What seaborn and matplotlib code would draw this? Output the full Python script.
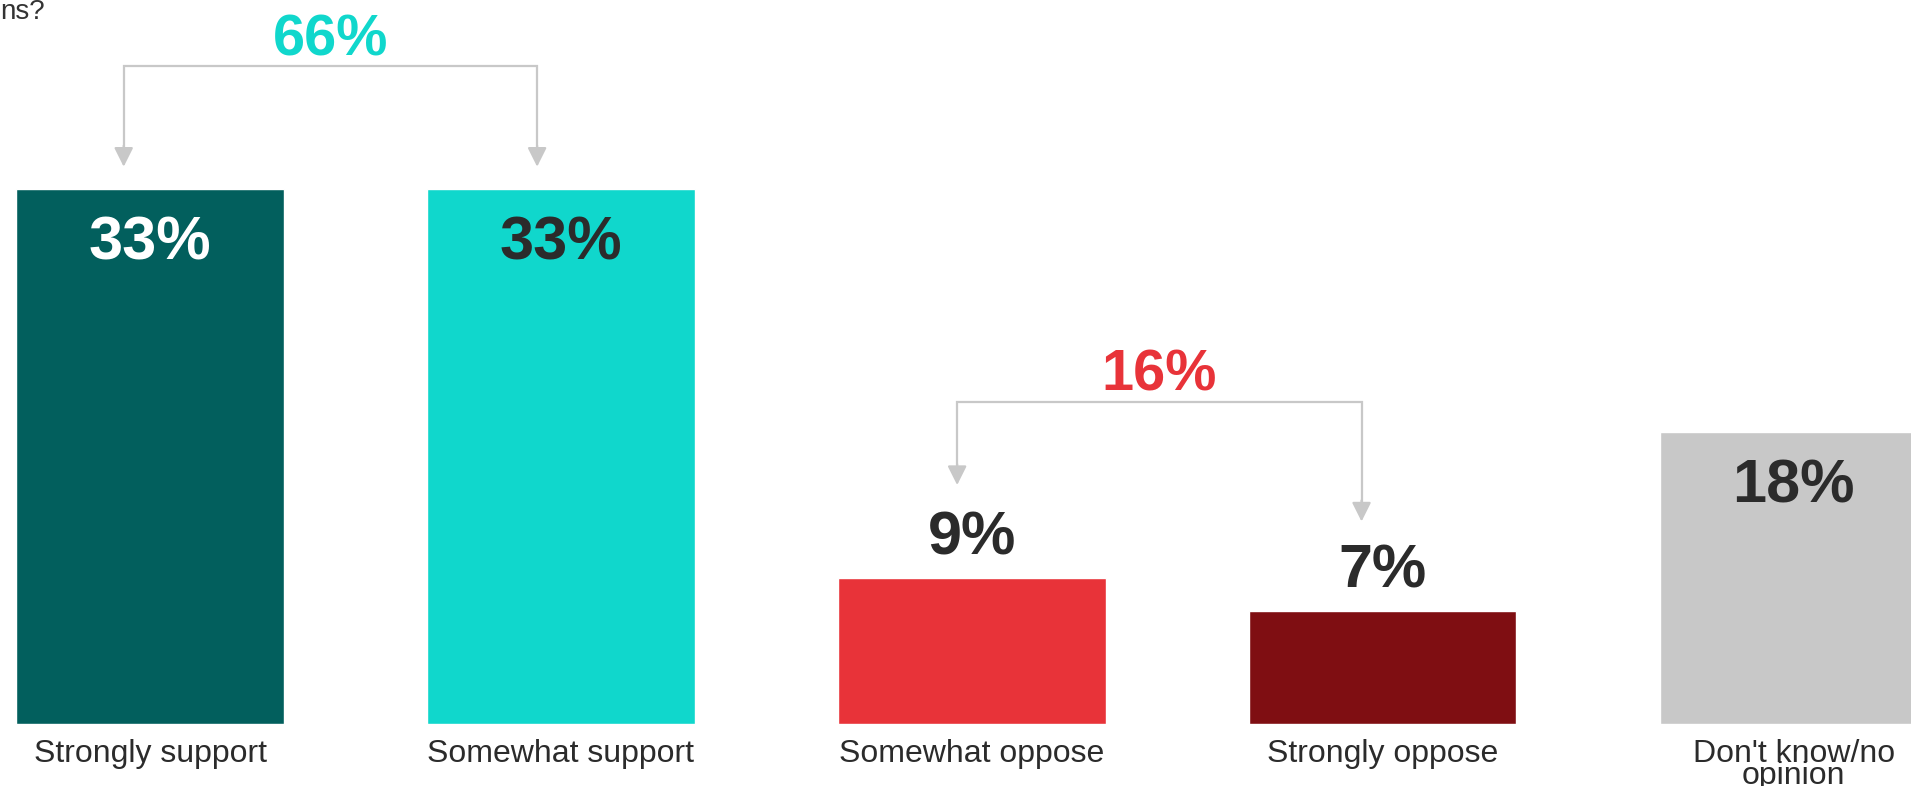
import matplotlib
matplotlib.use("Agg")
import matplotlib.pyplot as plt
import seaborn as sns
import pandas as pd

# ---- data ----
categories = ["Strongly support", "Somewhat support", "Somewhat oppose",
              "Strongly oppose", "Don't know/no opinion"]
tick_labels = ["Strongly support", "Somewhat support", "Somewhat oppose",
               "Strongly oppose", "Don't know/no\nopinion"]
values = [33, 33, 9, 7, 18]
value_labels = ["33%", "33%", "9%", "7%", "18%"]
support_total_label = "66%"
oppose_total_label = "16%"
title_fragment = "ns?"

bar_colors = ["#025F5D", "#10D7CC", "#E83339", "#7F0E12", "#C8C8C8"]
label_colors = ["#FFFFFF", "#2B2B2B", "#2B2B2B", "#2B2B2B", "#2B2B2B"]
label_inside = [True, True, False, False, True]

sns.set_theme(style="white")
plt.rcParams["font.family"] = ["Liberation Sans", "DejaVu Sans"]

W, H, DPI = 1911, 786, 100
fig = plt.figure(figsize=(W / DPI, H / DPI), dpi=DPI)
bottom_px = 62
ax = fig.add_axes([0, bottom_px / H, 1, (H - bottom_px) / H])

df = pd.DataFrame({"category": categories, "value": values})
sns.barplot(data=df, x="category", y="value", hue="category", order=categories,
            hue_order=categories, palette=bar_colors, width=0.65, legend=False,
            saturation=1, ax=ax)

px_per_unit = 16.2
ax.set_ylim(0, (H - bottom_px) / px_per_unit)
ax.set_xlim(-0.365, 4.285)
for s in ax.spines.values():
    s.set_visible(False)
ax.set_yticks([])
ax.set_ylabel("")
ax.set_xlabel("")
ax.set_xticks(range(len(categories)))
ax.set_xticklabels(tick_labels, fontsize=23, color="#2B2B2B")
ax.tick_params(axis="x", length=0, pad=11)
for lab in ax.get_xticklabels():
    lab.set_linespacing(0.64)

# value labels
for i, (v, t, c, inside) in enumerate(zip(values, value_labels, label_colors, label_inside)):
    y = v - 3.4 if inside else v + 2.4
    ax.text(i, y, t, ha="center", va="center", fontsize=44, fontweight="bold", color=c)

# brackets
gray = "#C8C8C8"
arrow_offsets = [-0.064, -0.058, -0.036, -0.052]

def bracket(i0, i1, o0, o1, tip0, tip1, ytop, label, color):
    x0, x1 = i0 + o0, i1 + o1
    ax.plot([x0, x0, x1, x1], [tip0 + 1.2, ytop, ytop, tip1 + 1.2], color=gray, lw=1.6,
            solid_joinstyle="miter", clip_on=False)
    for x, tip in ((x0, tip0), (x1, tip1)):
        ax.annotate("", xy=(x, tip), xytext=(x, tip + 1.3),
                    arrowprops=dict(arrowstyle="-|>,head_length=0.58,head_width=0.29",
                                    color=gray, lw=1.6, mutation_scale=20,
                                    shrinkA=0, shrinkB=0))
    ax.text((x0 + x1) / 2, ytop + 1.6, label, ha="center", va="center",
            fontsize=41.5, fontweight="bold", color=color)

bracket(0, 1, arrow_offsets[0], arrow_offsets[1], values[0] + 1.4, values[1] + 1.4,
        values[0] + 7.6, support_total_label, "#10D7CC")
bracket(2, 3, arrow_offsets[2], arrow_offsets[3], values[2] + 5.75, values[3] + 5.5,
        values[2] + 10.9, oppose_total_label, "#E83339")

fig.text(0, 1 - 19 / H, title_fragment, ha="left", va="baseline", fontsize=20,
         color="#333333")

fig.savefig("out.png", dpi=DPI)
